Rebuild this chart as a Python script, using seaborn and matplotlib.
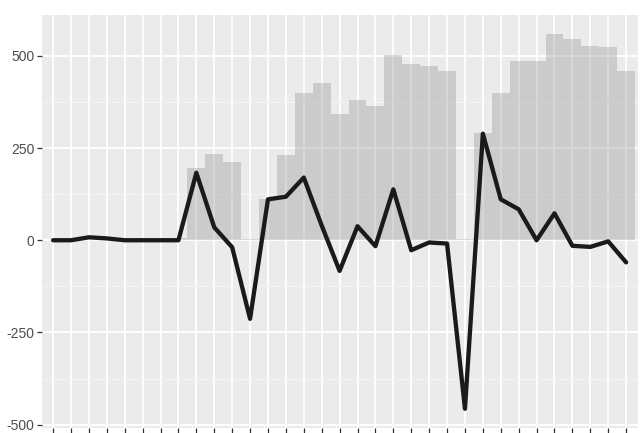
import numpy as np
import pandas as pd
import seaborn as sb
from matplotlib import pyplot as plt
from matplotlib.ticker import MultipleLocator, NullFormatter

# * data
bar_values = [0, 0, 0, 0, 0, 6, 6, 6, 197, 235, 213, 3, 111, 230, 400, 427, 343,
              381, 365, 503, 478, 473, 460, 3, 292, 400, 486, 486, 559, 546, 527, 524, 460]
line_values = [0, 0, 8, 5, 0, 0, 0, 0, 183, 35, -19, -213, 111, 118, 170, 40, -83,
               38, -16, 138, -27, -6, -9, -457, 289, 111, 84, 0, 73, -15, -18, -3, -60]
y_ticks = [-500, -250, 0, 250, 500]

df = pd.DataFrame({
    "idx": np.arange(len(bar_values)),
    "bar": bar_values,
    "line": line_values,
})

# * ggplot-like theme
sb.set_theme(style="darkgrid", rc={
    "axes.facecolor": "#EBEBEB",
    "grid.color": "white",
    "axes.edgecolor": "#EBEBEB",
})
plt.rcParams["font.family"] = ["Liberation Sans", "DejaVu Sans"]

fig = plt.figure(figsize=(6.41, 4.33), dpi=100)
ax = fig.add_axes([0.0655, 0.0125, 0.93, 0.953])

# * bars (semi-transparent so the grid shows through)
ax.bar(df["idx"], df["bar"], width=1.0, color="#8C8C8C", alpha=0.33, linewidth=0, zorder=2)

# * line
sb.lineplot(data=df, x="idx", y="line", color="#1A1A1A", linewidth=3.1, ax=ax, zorder=3)

ax.set_xlim(-0.62, len(bar_values) - 1 + 0.67)
ax.set_ylim(-508, 611)
ax.set_xticks(df["idx"])
ax.xaxis.set_major_formatter(NullFormatter())
ax.set_yticks(y_ticks)
ax.set_yticklabels([str(v) for v in y_ticks])
ax.yaxis.set_minor_locator(MultipleLocator(125))
ax.grid(which="major", color="white", linewidth=1.3)
ax.grid(which="minor", axis="y", color="#F5F5F5", linewidth=0.7)
ax.set_axisbelow(True)

ax.tick_params(axis="both", which="major", length=3.5, width=0.9, color="#333333",
               labelsize=10, labelcolor="#4D4D4D", pad=2, bottom=True, left=True)
ax.tick_params(axis="y", which="minor", length=0)
ax.set_xlabel("")
ax.set_ylabel("")
for s in ax.spines.values():
    s.set_visible(False)

plt.savefig("out.png", dpi=100)
plt.close()
